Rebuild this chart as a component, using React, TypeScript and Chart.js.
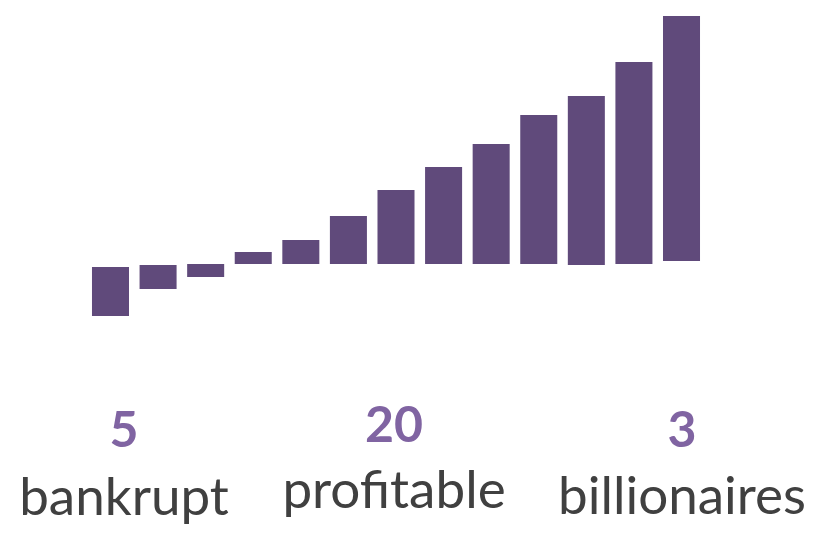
import React, { useEffect, useRef } from "react";
import { Chart, registerables } from "chart.js";

Chart.register(...registerables);

// Data (units: relative bar values; zero line is the shared baseline)
const categories = ["1", "2", "3", "4", "5", "6", "7", "8", "9", "10", "11", "12", "13"];
const barBase = [-3, -1, 0, 0, 0, 0, 0, 0, 0, 0, -1, 0, 3];
const barTop = [-52, -25, -13, 12, 24, 48, 74, 97, 120, 149, 168, 202, 248];

const counts = ["5", "20", "3"];
const groupLabels = ["bankrupt", "profitable", "billionaires"];

// Layout (not data)
const textCenters = [124, 394, 682];
const countBaselines = [447, 442, 447];
const labelBaselines = [515, 508, 514];

const BAR_COLOR = "#604A7B";
const COUNT_COLOR = "#8064A2";
const LABEL_COLOR = "#404040";

const textPlugin = {
  id: "bottomText",
  afterDraw(chart: any) {
    const ctx = chart.ctx as CanvasRenderingContext2D;
    ctx.save();
    ctx.textAlign = "center";
    ctx.textBaseline = "alphabetic";
    counts.forEach((c, i) => {
      ctx.font = "bold 50px Lato";
      ctx.fillStyle = COUNT_COLOR;
      ctx.fillText(c, textCenters[i], countBaselines[i]);
    });
    groupLabels.forEach((l, i) => {
      ctx.font = "53px Lato";
      ctx.fillStyle = LABEL_COLOR;
      ctx.fillText(l, textCenters[i], labelBaselines[i]);
    });
    ctx.restore();
  },
};

export default function App() {
  const ref = useRef<HTMLCanvasElement>(null);

  useEffect(() => {
    if (!ref.current) return;
    const chart = new Chart(ref.current, {
      type: "bar",
      data: {
        labels: categories,
        datasets: [
          {
            data: barBase.map((b, i) => [b, barTop[i]]) as any,
            backgroundColor: BAR_COLOR,
            borderWidth: 0,
            barPercentage: 0.778,
            categoryPercentage: 1,
          },
        ],
      },
      options: {
        responsive: false,
        animation: false,
        layout: {
          padding: { left: 86.7, right: 127.7, top: 16, bottom: 217 },
        },
        plugins: {
          legend: { display: false },
          tooltip: { enabled: false },
        },
        scales: {
          x: { display: false, grid: { display: false } },
          y: { display: false, min: -52, max: 248, grid: { display: false } },
        },
      },
      plugins: [textPlugin],
    });
    return () => chart.destroy();
  }, []);

  return (
    <div style={{ position: "absolute", left: 0, top: 0, width: 833, height: 533, background: "#fff" }}>
      <canvas ref={ref} width={833} height={533} style={{ width: 833, height: 533 }} />
    </div>
  );
}
